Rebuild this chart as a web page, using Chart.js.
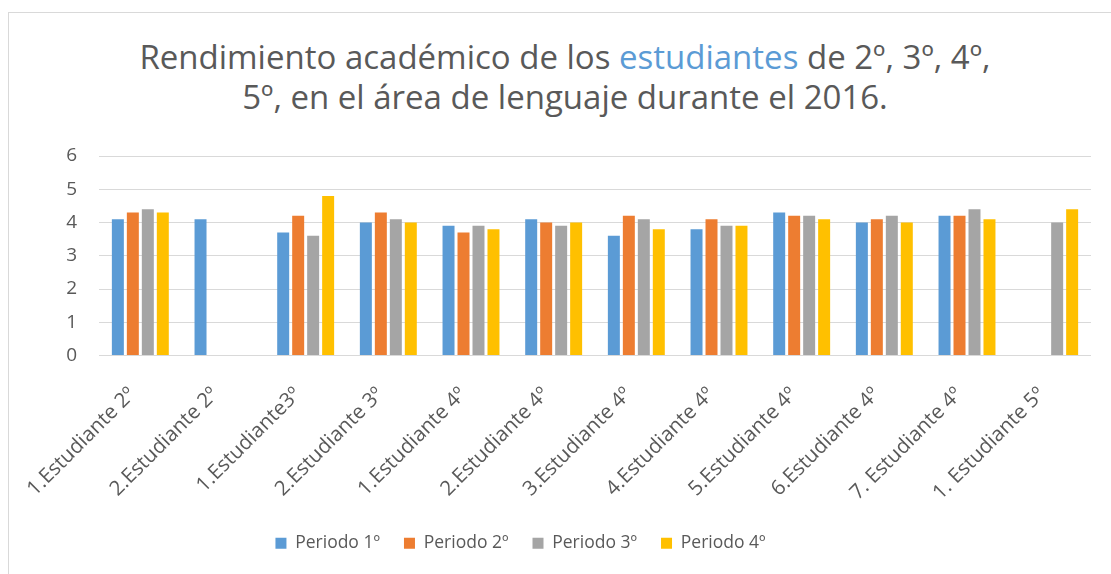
<!DOCTYPE html>
<html>
<head>
<meta charset="utf-8">
<script src="https://cdn.jsdelivr.net/npm/chart.js@4"></script>
<style>
  html, body { margin: 0; padding: 0; background: #fff; }
  #wrap { position: relative; width: 1111px; height: 574px; overflow: hidden; }
  #frame { position: absolute; left: 8px; top: 12px; width: 1200px; height: 700px; border-left: 1px solid #d9d9d9; border-top: 1px solid #d9d9d9; }
  #title { position: absolute; left: 0; top: 37px; width: 1130px; text-align: center; font-family: "Open Sans", sans-serif; font-size: 33px; line-height: 40px; color: #595959; }
  #title .hl { color: #5B9BD5; }
  canvas { position: absolute; left: 0; top: 0; }
</style>
</head>
<body>
<div id="wrap">
  <div id="frame"></div>
  <div id="title">Rendimiento académico de los <span class="hl">estudiantes</span> de 2º, 3º, 4º,<br>5º, en el área de lenguaje durante el 2016.</div>
  <canvas id="c" width="1111" height="574"></canvas>
</div>
<script>
const categories = ["1.Estudiante 2º", "2.Estudiante 2º", "1.Estudiante3º", "2.Estudiante 3º", "1.Estudiante 4º", "2.Estudiante 4º", "3.Estudiante 4º", "4.Estudiante 4º", "5.Estudiante 4º", "6.Estudiante 4º", "7. Estudiante 4º", "1. Estudiante 5º"];
const periodo1 = [4.1, 4.1, 3.7, 4.0, 3.9, 4.1, 3.6, 3.8, 4.3, 4.0, 4.2, null];
const periodo2 = [4.3, null, 4.2, 4.3, 3.7, 4.0, 4.2, 4.1, 4.2, 4.1, 4.2, null];
const periodo3 = [4.4, null, 3.6, 4.1, 3.9, 3.9, 4.1, 3.9, 4.2, 4.2, 4.4, 4.0];
const periodo4 = [4.3, null, 4.8, 4.0, 3.8, 4.0, 3.8, 3.9, 4.1, 4.0, 4.1, 4.4];
const seriesNames = ["Periodo 1º", "Periodo 2º", "Periodo 3º", "Periodo 4º"];
const seriesColors = ["#5B9BD5", "#ED7D31", "#A5A5A5", "#FFC000"];
const yTicks = [0, 1, 2, 3, 4, 5, 6];

const font = "'Open Sans', sans-serif";
const txt = "#595959";

const legendShift = {
  id: "legendShift",
  afterLayout(chart) {
    if (chart.legend) { chart.legend.left -= 25; chart.legend.right -= 25; }
  }
};

new Chart(document.getElementById("c"), {
  type: "bar",
  plugins: [legendShift],
  data: {
    labels: categories,
    datasets: [periodo1, periodo2, periodo3, periodo4].map((d, i) => ({
      label: seriesNames[i],
      data: d,
      backgroundColor: seriesColors[i],
      borderWidth: 0,
      categoryPercentage: 0.725,
      barPercentage: 0.8
    }))
  },
  options: {
    responsive: false,
    animation: false,
    layout: { padding: { top: 156, left: 0, right: 20, bottom: 12 } },
    plugins: {
      title: { display: false },
      tooltip: { enabled: false },
      legend: {
        position: "bottom",
        labels: {
          font: { family: font, size: 17.5 },
          color: txt,
          boxWidth: 11,
          boxHeight: 11,
          padding: 24
        }
      }
    },
    scales: {
      x: {
        grid: { display: false },
        border: { display: false },
        afterFit: (s) => { s.height = 155; },
        ticks: {
          font: { family: font, size: 20.5 },
          color: txt,
          minRotation: 45,
          maxRotation: 45,
          autoSkip: false,
          padding: 19,
          labelOffset: -8
        }
      },
      y: {
        min: yTicks[0],
        max: yTicks[yTicks.length - 1],
        afterBuildTicks: (s) => { s.ticks = yTicks.map(v => ({ value: v })); },
        afterFit: (s) => { s.width = 99; },
        grid: { color: "#d9d9d9", lineWidth: 1, drawTicks: false },
        border: { display: false },
        ticks: {
          font: { family: font, size: 19 },
          color: txt,
          padding: 22
        }
      }
    }
  }
});
</script>
</body>
</html>
